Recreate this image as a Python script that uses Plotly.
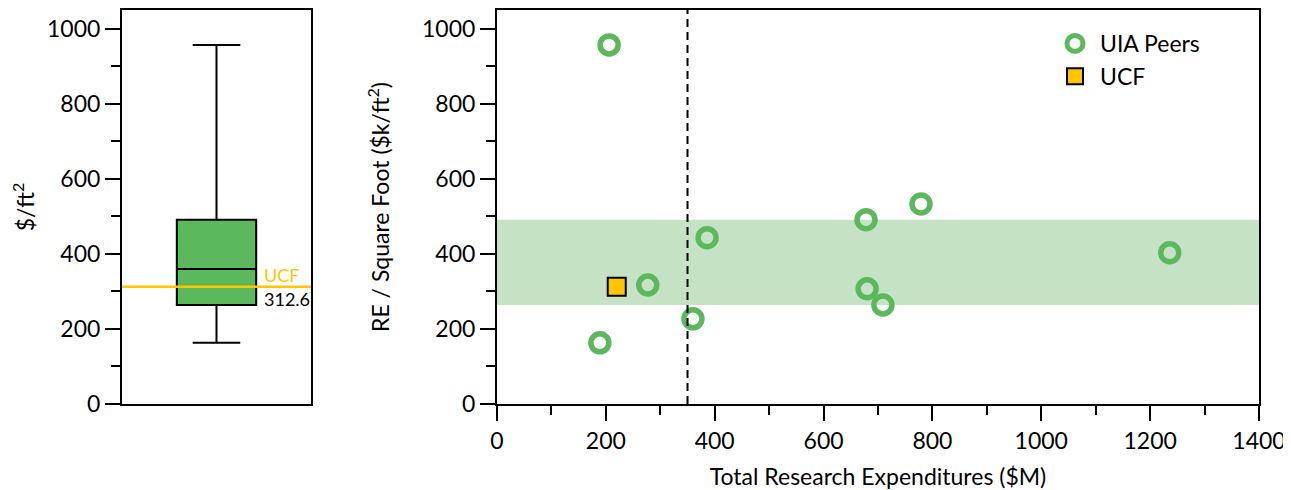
import plotly.graph_objects as go

# ---- data ----
peer_expend = [206, 189, 277, 386, 360, 678, 779, 680, 709, 1236]
peer_re_sqft = [957, 163, 317, 443, 227, 491, 533, 307, 264, 403]
ucf_expend = [220]
ucf_re_sqft = [312.6]
ucf_value = 312.6
band_low = 264
band_high = 491
threshold_x = 350

x_ticks = [0, 200, 400, 600, 800, 1000, 1200, 1400]
y_ticks = [0, 200, 400, 600, 800, 1000]

GREEN = "rgb(92,184,92)"
GOLD = "rgb(255,198,0)"
BAND = "rgb(197,226,196)"
FONT = "Lato"
FS = 23

# page body has an 8px margin; the figure starts 8px in from the corner
W, H = 1283, 482

fig = go.Figure()

fig.add_trace(go.Box(
    y=peer_re_sqft, x0=0, width=0.42, xaxis="x", yaxis="y",
    quartilemethod="exclusive", boxpoints=False, whiskerwidth=0.6,
    fillcolor=GREEN, line=dict(color="black", width=2),
    showlegend=False, hoverinfo="y",
))

fig.add_trace(go.Scatter(
    x=peer_expend, y=peer_re_sqft, xaxis="x2", yaxis="y2",
    mode="markers", name="UIA Peers",
    marker=dict(symbol="circle-open", size=18, color=GREEN,
                line=dict(color=GREEN, width=5.5)),
))
fig.add_trace(go.Scatter(
    x=ucf_expend, y=ucf_re_sqft, xaxis="x2", yaxis="y2",
    mode="markers", name="UCF",
    marker=dict(symbol="square", size=18, color=GOLD,
                line=dict(color="black", width=2)),
))

# shaded interquartile band and threshold line on scatter panel
fig.add_shape(type="rect", xref="x2 domain", yref="y2", x0=0, x1=1,
              y0=band_low, y1=band_high, fillcolor=BAND, line_width=0,
              layer="below")
fig.add_shape(type="line", xref="x2", yref="y2 domain", x0=threshold_x,
              x1=threshold_x, y0=0, y1=1,
              line=dict(color="black", width=2, dash="8px,5px"))

# UCF line on box panel
fig.add_shape(type="line", xref="x domain", yref="y", x0=0, x1=1,
              y0=ucf_value, y1=ucf_value, line=dict(color=GOLD, width=2.5))
fig.add_annotation(xref="x domain", yref="y", x=0.74, y=ucf_value,
                   text="UCF", showarrow=False, xanchor="left",
                   yanchor="bottom", yshift=-1,
                   font=dict(family=FONT, size=18, color=GOLD))
fig.add_annotation(xref="x domain", yref="y", x=0.74, y=ucf_value,
                   text=f"{ucf_value}", showarrow=False, xanchor="left",
                   yanchor="top", yshift=1,
                   font=dict(family=FONT, size=18, color="black"))

axis_common = dict(showline=True, linecolor="black", linewidth=2,
                   mirror=True, showgrid=False, zeroline=False,
                   automargin=False,
                   tickfont=dict(family=FONT, size=FS, color="black"))
minor_ticks = dict(dtick=100, ticks="outside", ticklen=9, tickwidth=2,
                   tickcolor="black")

fig.update_layout(
    width=W, height=H,
    margin=dict(l=0, r=0, t=2, b=86),
    paper_bgcolor="white", plot_bgcolor="white",
    font=dict(family=FONT, size=FS, color="black"),
    xaxis=dict(domain=[114 / W, 303 / W], range=[-0.5, 0.5],
               showticklabels=False, ticks="", **axis_common),
    yaxis=dict(range=[0, 1050], tickvals=y_ticks, ticks="outside",
               ticklen=15, tickwidth=2, tickcolor="black",
               minor=minor_ticks,
               title=dict(text="$/ft<sup>2</sup>", standoff=25,
                          font=dict(family=FONT, size=FS)),
               **axis_common),
    xaxis2=dict(domain=[489 / W, 1251 / W], range=[0, 1400],
                tickvals=x_ticks, ticks="outside", ticklen=15, tickwidth=2,
                tickcolor="black", anchor="y2", minor=minor_ticks,
                ticklabeloverflow="allow",
                title=dict(text="Total Research Expenditures ($M)",
                           standoff=20, font=dict(family=FONT, size=FS)),
                **axis_common),
    yaxis2=dict(range=[0, 1050], tickvals=y_ticks, ticks="outside",
                ticklen=15, tickwidth=2, tickcolor="black", anchor="x2",
                minor=minor_ticks,
                title=dict(text="RE / Square Foot ($k/ft<sup>2</sup>)",
                           standoff=26, font=dict(family=FONT, size=FS)),
                **axis_common),
    legend=dict(x=1042 / W, y=1 - 12 / 394, xanchor="left", yanchor="top",
                bgcolor="rgba(0,0,0,0)", tracegroupgap=0, itemwidth=40,
                font=dict(family=FONT, size=FS)),
)

fig.write_html("out.html")
